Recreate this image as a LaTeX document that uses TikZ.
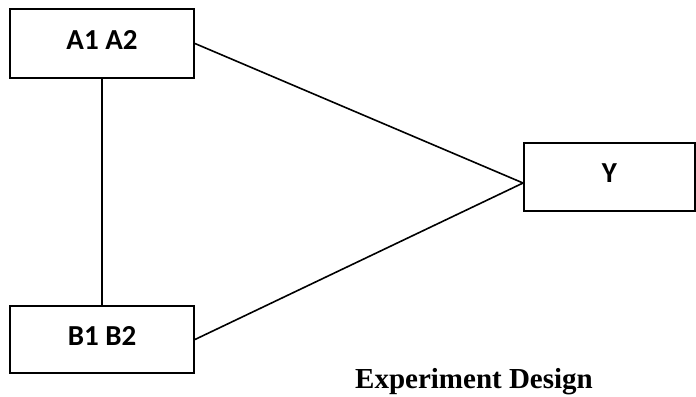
\documentclass[tikz,border=0pt]{standalone}
\usepackage{fontspec}
\setmainfont{Liberation Serif}
\newfontfamily\calibri{Carlito}
\usepackage{tikz}
\usetikzlibrary{
  positioning,
  calc
}
\tikzset{
  factor/.style={
    draw,
    line width = 1.9bp,
    inner sep = 0pt,
    text depth = 8bp,
    font = \calibri\bfseries\fontsize{29bp}{34bp}\selectfont
  },
  link/.style={
    line width = 1.6bp
  }
}

\begin{document}
\begin{tikzpicture}[x=1bp,y=-1bp]
    \useasboundingbox (0,0) rectangle (696,396);

    \node[factor, minimum width = 184bp, minimum height = 69bp] (a) at (102,43.5) {A1 A2};
    \node[factor, minimum width = 184bp, minimum height = 67bp] (b) at (102,339.5) {B1 B2};
    \node[factor, minimum width = 171bp, minimum height = 68bp] (y) at (609.5,177) {Y};
    \coordinate (tip) at ($(y.west)+(0,6)$);

    \node[anchor=base west, inner sep=0pt,
          font=\bfseries\fontsize{29bp}{34bp}\selectfont] (title) at (355,388) {Experiment Design};

    \path[link]
    (a) edge (b)
    (a.east) edge (tip)
    (b.east) edge (tip)
        ;
    \end{tikzpicture}
\end{document}
